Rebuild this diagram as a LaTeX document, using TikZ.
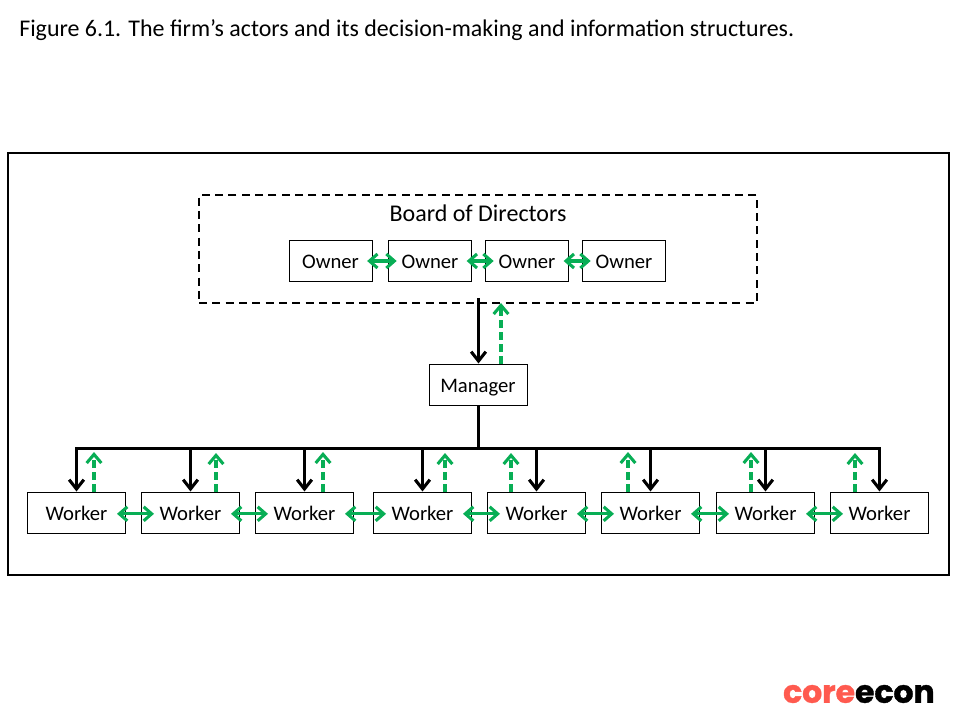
\documentclass[tikz,border=0pt]{standalone}
\usepackage{fontspec}
\setmainfont{Carlito}
\newfontfamily\logofont{Poppins}[BoldFeatures={FakeBold=1.2}]
\usetikzlibrary{arrows.meta}
\definecolor{cgreen}{HTML}{08AE55}
\definecolor{cred}{HTML}{FF5A4F}
\tikzset{
  box/.style={draw=black,line width=0.75pt,fill=white,inner sep=0pt,font=\fontsize{15.5}{17}\selectfont,minimum height=30.75pt,text height=12pt,text depth=0pt},
  ownerbox/.style={box,minimum width=62.25pt},
  workerbox/.style={box,minimum width=74pt},
  blackarrow/.style={draw=black,line width=2.25pt,-{Straight Barb[length=7pt,width=11pt,line width=2.3pt]}},
  greenup/.style={draw=cgreen,line width=2.4pt,dash pattern=on 6pt off 3pt,-{Straight Barb[length=6.5pt,width=11pt,line width=2.3pt]}},
  greentwo/.style={draw=cgreen,line width=2.4pt,{Straight Barb[length=6pt,width=10.5pt,line width=2.3pt]}-{Straight Barb[length=6pt,width=10.5pt,line width=2.3pt]}},
}
\begin{document}
\begin{tikzpicture}[x=0.75pt,y=-0.75pt]
\useasboundingbox (0,0) rectangle (960,720);
\fill[white] (0,0) rectangle (960,720);
\node[anchor=west,inner sep=0pt,font=\fontsize{17.95}{20}\selectfont] (title) at (19,30.5) {Figure 6.1. The firm’s actors and its decision-making and information structures.};
\node[draw=black,line width=1.5pt,minimum width=705.75pt,minimum height=316.5pt,inner sep=0pt] (outer) at (478.5,364) {};
\node[draw=black,line width=1.2pt,dash pattern=on 6pt off 4pt,minimum width=418.5pt,minimum height=81pt,inner sep=0pt] (board) at (478,249) {};
\node[inner sep=0pt,font=\fontsize{18}{20}\selectfont] (boardlabel) at (478,213.5) {Board of Directors};
\node[ownerbox] (o1) at (330.5,261) {Owner};
\node[ownerbox] (o2) at (430,261) {Owner};
\node[ownerbox] (o3) at (527,261) {Owner};
\node[ownerbox] (o4) at (624,261) {Owner};
\node[workerbox,minimum width=73.5pt] (mgr) at (478,384.5) {Manager};
\node[workerbox] (w1) at (76.5,512.5) {Worker};
\node[workerbox] (w2) at (190.5,512.5) {Worker};
\node[workerbox] (w3) at (304.5,512.5) {Worker};
\node[workerbox] (w4) at (422.5,512.5) {Worker};
\node[workerbox] (w5) at (536.5,512.5) {Worker};
\node[workerbox] (w6) at (650.5,512.5) {Worker};
\node[workerbox] (w7) at (765.5,512.5) {Worker};
\node[workerbox] (w8) at (879.5,512.5) {Worker};
% owner links
\foreach \a/\b in {o1/o2,o2/o3,o3/o4}
  \draw[greentwo,shorten <=-4pt,shorten >=-6.5pt] (\a.east) -- (\b.west);
% board <-> manager
\coordinate (boardin) at (478.5,298);
\coordinate (boardup) at (501,303);
\draw[blackarrow] (boardin) -- (boardin |- mgr.north);
\draw[greenup] (boardup |- mgr.north) -- (boardup);
% bus
\coordinate (bus) at (478.5,448);
\draw[black,line width=2.25pt] (mgr.south -| bus) -- (bus);
\draw[black,line width=2.25pt,line cap=rect] (w1.north |- bus) -- (w8.north |- bus);
\foreach \w in {w1,w2,w3,w4,w5,w6,w7,w8}
  \draw[blackarrow] (\w.north |- bus) -- (\w.north);
% green reports
\foreach \w/\gx/\gy in {w1/94/452,w2/216/453,w3/323/452,w4/445/453,w5/511/453,w6/628/452,w7/751/452,w8/855/453}{
  \coordinate (g\w) at (\gx,\gy);
  \draw[greenup] (g\w |- \w.north) -- (g\w);
}
% worker links
\foreach \a/\b in {w1/w2,w2/w3,w3/w4,w4/w5,w5/w6,w6/w7,w7/w8}
  \draw[greentwo,shorten <=-7pt,shorten >=-10pt] ([yshift=-1pt]\a.east) -- ([yshift=-1pt]\b.west);
\node[anchor=east,inner sep=0pt,font=\logofont\bfseries\fontsize{23.6}{26}\selectfont] (logo) at (935,694) {\textcolor{cred}{core}\textcolor{black}{econ}};
\end{tikzpicture}
\end{document}
